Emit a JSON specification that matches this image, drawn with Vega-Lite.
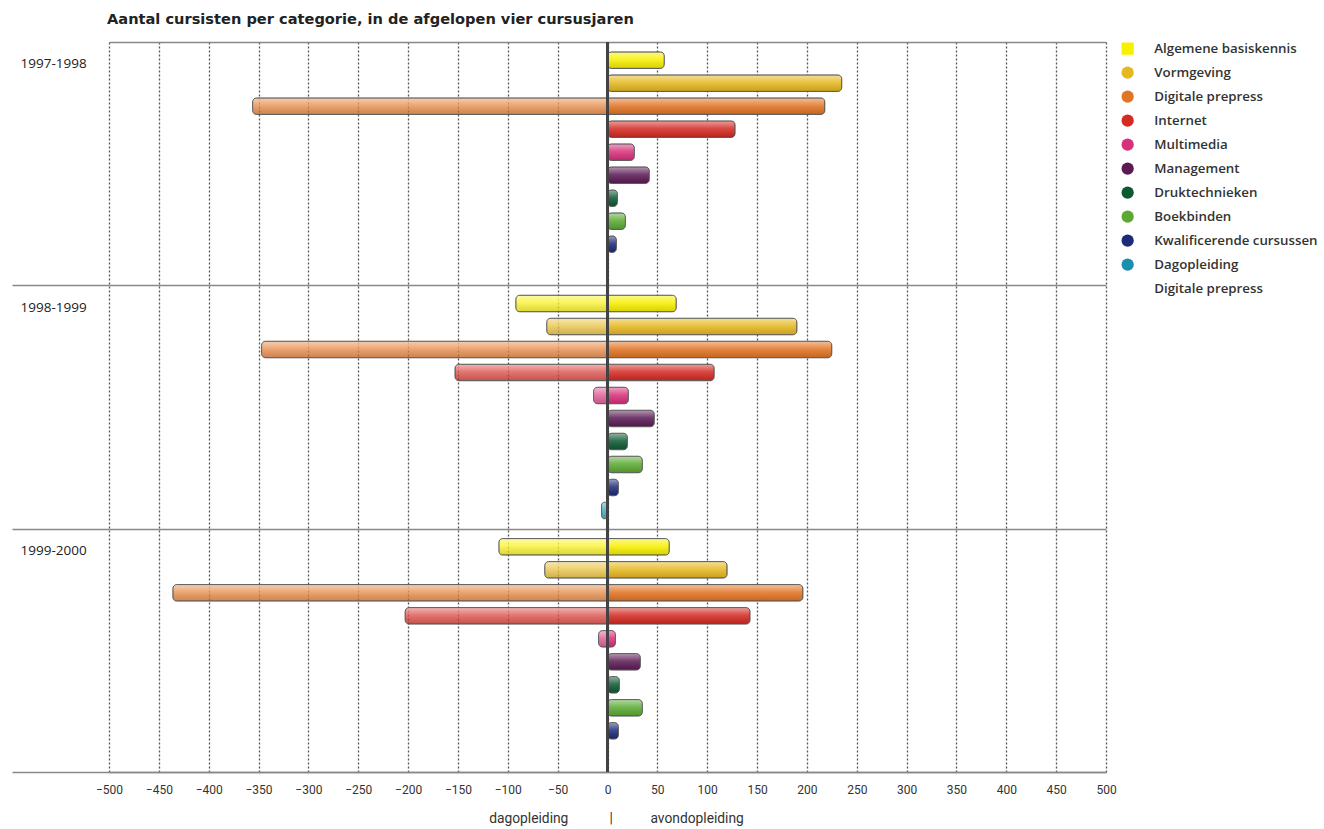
{
  "$schema": "https://vega.github.io/schema/vega-lite/v6.json",
  "width": 997,
  "height": 730,
  "autosize": {"type": "none"},
  "padding": {"left": 109, "top": 42, "right": 218, "bottom": 57},
  "background": "white",
  "title": {
    "text": "Aantal cursisten per categorie, in de afgelopen vier cursusjaren",
    "anchor": "start",
    "frame": "group",
    "font": "DejaVu Sans",
    "fontSize": 14.6,
    "fontWeight": "bold",
    "color": "#222222",
    "baseline": "alphabetic",
    "offset": -4,
    "dx": -2
  },
  "config": {
    "view": {"stroke": null},
    "axis": {"labelFont": "Roboto", "titleFont": "Roboto"}
  },
  "data": {
    "values": [
      {"year": "1997-1998", "category": "Algemene basiskennis", "side": "avond", "value": 57},
      {"year": "1997-1998", "category": "Vormgeving", "side": "avond", "value": 235},
      {"year": "1997-1998", "category": "Digitale prepress", "side": "avond", "value": 218},
      {"year": "1997-1998", "category": "Digitale prepress", "side": "dag", "value": -356},
      {"year": "1997-1998", "category": "Internet", "side": "avond", "value": 128},
      {"year": "1997-1998", "category": "Multimedia", "side": "avond", "value": 27},
      {"year": "1997-1998", "category": "Management", "side": "avond", "value": 42},
      {"year": "1997-1998", "category": "Druktechnieken", "side": "avond", "value": 10},
      {"year": "1997-1998", "category": "Boekbinden", "side": "avond", "value": 18},
      {"year": "1997-1998", "category": "Kwalificerende cursussen", "side": "avond", "value": 9},

      {"year": "1998-1999", "category": "Algemene basiskennis", "side": "avond", "value": 69},
      {"year": "1998-1999", "category": "Algemene basiskennis", "side": "dag", "value": -92},
      {"year": "1998-1999", "category": "Vormgeving", "side": "avond", "value": 190},
      {"year": "1998-1999", "category": "Vormgeving", "side": "dag", "value": -61},
      {"year": "1998-1999", "category": "Digitale prepress", "side": "avond", "value": 225},
      {"year": "1998-1999", "category": "Digitale prepress", "side": "dag", "value": -347},
      {"year": "1998-1999", "category": "Internet", "side": "avond", "value": 107},
      {"year": "1998-1999", "category": "Internet", "side": "dag", "value": -153},
      {"year": "1998-1999", "category": "Multimedia", "side": "avond", "value": 21},
      {"year": "1998-1999", "category": "Multimedia", "side": "dag", "value": -14},
      {"year": "1998-1999", "category": "Management", "side": "avond", "value": 47},
      {"year": "1998-1999", "category": "Druktechnieken", "side": "avond", "value": 20},
      {"year": "1998-1999", "category": "Boekbinden", "side": "avond", "value": 35},
      {"year": "1998-1999", "category": "Kwalificerende cursussen", "side": "avond", "value": 11},
      {"year": "1998-1999", "category": "Dagopleiding", "side": "dag", "value": -6},

      {"year": "1999-2000", "category": "Algemene basiskennis", "side": "avond", "value": 62},
      {"year": "1999-2000", "category": "Algemene basiskennis", "side": "dag", "value": -109},
      {"year": "1999-2000", "category": "Vormgeving", "side": "avond", "value": 120},
      {"year": "1999-2000", "category": "Vormgeving", "side": "dag", "value": -63},
      {"year": "1999-2000", "category": "Digitale prepress", "side": "avond", "value": 196},
      {"year": "1999-2000", "category": "Digitale prepress", "side": "dag", "value": -436},
      {"year": "1999-2000", "category": "Internet", "side": "avond", "value": 143},
      {"year": "1999-2000", "category": "Internet", "side": "dag", "value": -203},
      {"year": "1999-2000", "category": "Multimedia", "side": "avond", "value": 8},
      {"year": "1999-2000", "category": "Multimedia", "side": "dag", "value": -9},
      {"year": "1999-2000", "category": "Management", "side": "avond", "value": 33},
      {"year": "1999-2000", "category": "Druktechnieken", "side": "avond", "value": 12},
      {"year": "1999-2000", "category": "Boekbinden", "side": "avond", "value": 35},
      {"year": "1999-2000", "category": "Kwalificerende cursussen", "side": "avond", "value": 11}
    ]
  },
  "encoding": {
    "x": {
      "field": "value",
      "type": "quantitative",
      "scale": {"domain": [-500, 500], "nice": false},
      "axis": {
        "values": [-500, -450, -400, -350, -300, -250, -200, -150, -100, -50, 0, 50, 100, 150, 200, 250, 300, 350, 400, 450, 500],
        "grid": true,
        "gridDash": [2, 2],
        "gridColor": "#555555",
        "gridWidth": 1.3,
        "ticks": false,
        "domain": true,
        "domainColor": "#888888",
        "domainWidth": 1.5,
        "labelFlush": false,
        "labelFont": "Roboto",
        "labelFontSize": 12,
        "labelColor": "#333333",
        "labelPadding": 12,
        "title": "dagopleiding\u00a0\u00a0\u00a0\u00a0\u00a0\u00a0\u00a0\u00a0\u00a0\u00a0\u00a0\u00a0|\u00a0\u00a0\u00a0\u00a0\u00a0\u00a0\u00a0\u00a0\u00a0\u00a0\u00a0avondopleiding",
        "titleFont": "Roboto",
        "titleFontSize": 13.8,
        "titleFontWeight": "normal",
        "titleColor": "#333333",
        "titlePadding": 16,
        "titleX": 507,
        "titleAlign": "center"
      }
    },
    "y": {
      "field": "year",
      "type": "nominal",
      "scale": {"paddingInner": 0, "paddingOuter": 0},
      "axis": {
        "title": null,
        "tickBand": "extent",
        "ticks": true,
        "tickSize": 97,
        "tickColor": "#888888",
        "tickWidth": 1.5,
        "tickOpacity": {"condition": {"test": "datum.extra", "value": 0}, "value": 1},
        "grid": true,
        "gridColor": "#888888",
        "gridWidth": 1.5,
        "domain": false,
        "labelAlign": "left",
        "labelPadding": -8,
        "labelOffset": -100,
        "labelFont": "Open Sans",
        "labelFontSize": 13.5,
        "labelColor": "#222222"
      }
    },
    "yOffset": {
      "field": "category",
      "type": "nominal",
      "scale": {
        "domain": ["Algemene basiskennis", "Vormgeving", "Digitale prepress", "Internet", "Multimedia", "Management", "Druktechnieken", "Boekbinden", "Kwalificerende cursussen", "Dagopleiding"],
        "paddingInner": 0.28,
        "paddingOuter": 0.43
      }
    }
  },
  "layer": [
    {
      "mark": {"type": "bar", "cornerRadius": 4},
      "encoding": {
        "color": {
          "field": "category",
          "type": "nominal",
          "scale": {
            "domain": ["Algemene basiskennis", "Vormgeving", "Digitale prepress", "Internet", "Multimedia", "Management", "Druktechnieken", "Boekbinden", "Kwalificerende cursussen", "Dagopleiding", "Digitale prepress "],
            "range": ["#f8f000", "#e6b820", "#e27424", "#d42a22", "#d8307a", "#5c1a55", "#0d5a32", "#5aaa32", "#1c2a7a", "#1a8fb0", "rgba(255,255,255,0)"]
          },
          "legend": {
            "title": null,
            "orient": "right",
            "offset": 15,
            "padding": 0,
            "symbolType": "circle",
            "symbolSize": 150,
            "symbolStrokeWidth": 0,
            "labelFont": "Open Sans",
            "labelFontSize": 13.3,
            "labelFontWeight": 600,
            "labelColor": "#333333",
            "labelOffset": 20,
            "rowPadding": 10,
            "labelLimit": 300,
            "encode": {
              "symbols": {
                "update": {
                  "shape": [
                    {"test": "datum.value === 'Algemene basiskennis'", "value": "square"},
                    {"value": "circle"}
                  ]
                }
              }
            }
          }
        },
        "opacity": {
          "field": "side",
          "type": "nominal",
          "scale": {"domain": ["dag", "avond"], "range": [0.75, 1]},
          "legend": null
        }
      }
    },
    {
      "mark": {
        "type": "bar",
        "cornerRadius": 4,
        "stroke": "#555555",
        "strokeWidth": 0.9,
        "color": {
          "gradient": "linear",
          "x1": 0, "y1": 0, "x2": 0, "y2": 1,
          "stops": [
            {"offset": 0, "color": "rgba(255,255,255,0.55)"},
            {"offset": 0.45, "color": "rgba(255,255,255,0.15)"},
            {"offset": 1, "color": "rgba(0,0,0,0.12)"}
          ]
        }
      }
    },
    {
      "mark": {"type": "rule", "color": "#444444", "strokeWidth": 1.3},
      "encoding": {"x": {"datum": 0}, "y": null, "yOffset": null}
    }
  ]
}
